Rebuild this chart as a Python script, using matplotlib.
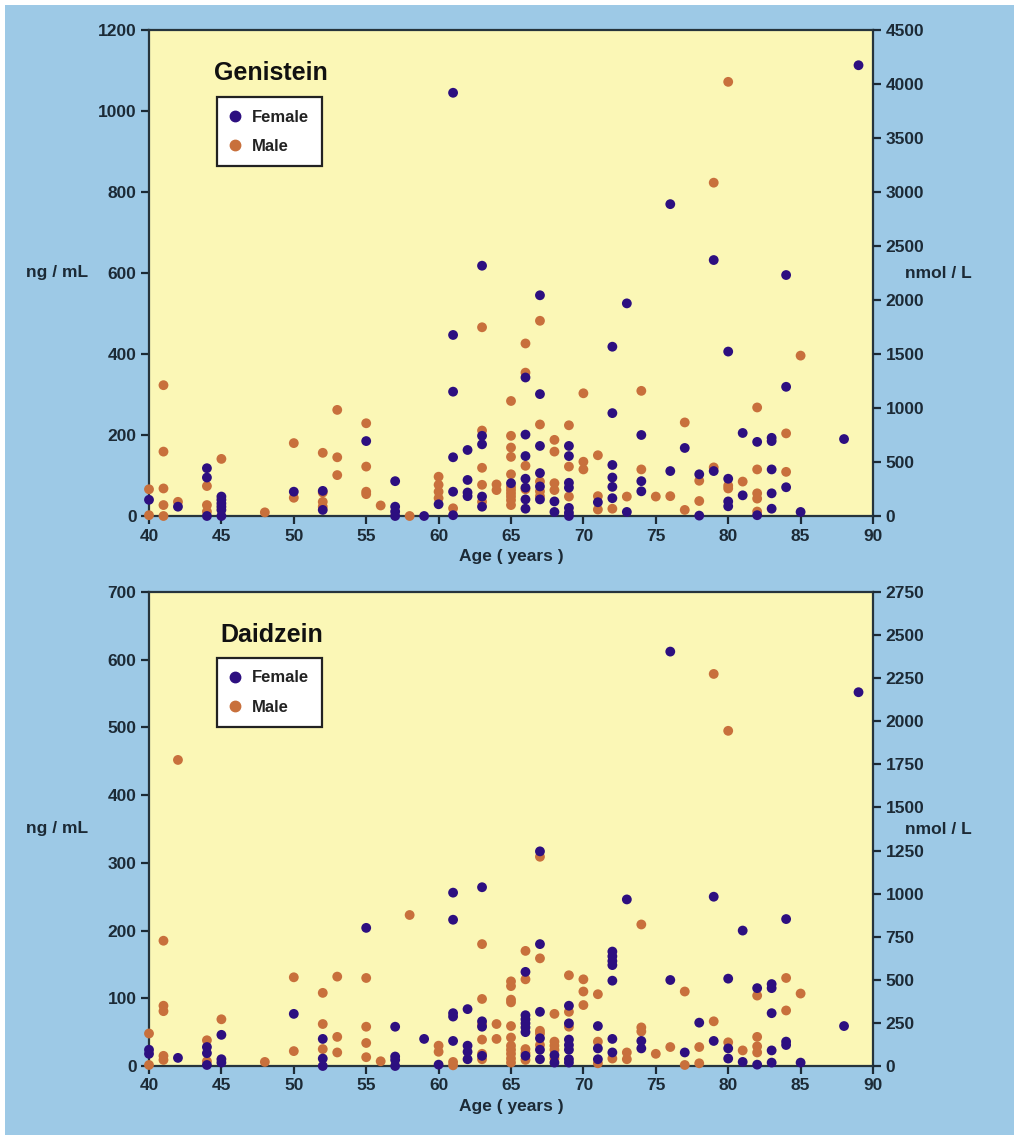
import matplotlib.pyplot as plt
from matplotlib.lines import Line2D
from matplotlib.patches import Rectangle

plt.rcParams['font.family'] = ['Liberation Sans', 'DejaVu Sans']
plt.rcParams['font.weight'] = 'bold'

BLUE = '#9dc9e6'
YELLOW = '#fbf7b6'
PURPLE = '#2d0f80'
ORANGE = '#c8703c'
INK = '#1c2a36'

# (age, ng/mL)
gen_female = [(40, 40), (42, 23), (44, 118), (44, 95), (44, 0),
              (45, 48), (45, 40), (45, 31), (45, 23), (45, 15), (45, 0),
              (50, 60), (52, 62), (52, 15), (55, 185),
              (57, 86), (57, 23), (57, 11), (57, 0), (59, 0), (60, 29),
              (61, 1045), (61, 447), (61, 307), (61, 145), (61, 60), (61, 2),
              (62, 163), (62, 89), (62, 58), (62, 49),
              (63, 618), (63, 198), (63, 177), (63, 48), (63, 23), (65, 81),
              (66, 342), (66, 201), (66, 148), (66, 92), (66, 70), (66, 41), (66, 18),
              (67, 545), (67, 301), (67, 173), (67, 106), (67, 73), (67, 41),
              (68, 36), (68, 10),
              (69, 173), (69, 148), (69, 82), (69, 70), (69, 20), (69, 8), (69, 0),
              (71, 34),
              (72, 418), (72, 254), (72, 126), (72, 95), (72, 72), (72, 44),
              (73, 525), (73, 10), (74, 200), (74, 86), (74, 61),
              (76, 770), (76, 111), (77, 168), (78, 103), (78, 1),
              (79, 632), (79, 111), (80, 406), (80, 92), (80, 36), (80, 24),
              (81, 205), (81, 51), (82, 183), (82, 2),
              (83, 193), (83, 185), (83, 115), (83, 56), (83, 18),
              (84, 595), (84, 319), (84, 71), (85, 10), (88, 190), (89, 1113)]

gen_male = [(40, 66), (40, 2), (41, 323), (41, 159), (41, 68), (41, 27), (41, 0),
            (42, 35), (44, 74), (44, 27), (44, 11), (45, 141), (48, 9),
            (50, 180), (50, 45), (52, 156), (52, 58), (52, 35), (52, 23),
            (53, 262), (53, 145), (53, 101), (55, 229), (55, 122), (55, 60), (55, 54),
            (56, 26), (58, 0), (60, 97), (60, 77), (60, 60), (60, 44), (61, 19),
            (63, 466), (63, 211), (63, 119), (63, 77), (63, 35), (64, 78), (64, 64),
            (65, 284), (65, 198), (65, 169), (65, 146), (65, 103), (65, 72),
            (65, 64), (65, 56), (65, 48), (65, 39), (65, 27),
            (66, 426), (66, 354), (66, 124), (66, 66),
            (67, 482), (67, 226), (67, 85), (67, 61), (67, 49),
            (68, 188), (68, 159), (68, 81), (68, 64), (69, 224), (69, 122), (69, 48),
            (70, 303), (70, 134), (70, 115), (71, 150), (71, 49), (71, 16),
            (72, 18), (73, 48), (74, 309), (74, 115), (75, 48), (76, 49),
            (77, 231), (77, 15), (78, 87), (78, 37), (79, 823), (79, 120),
            (80, 1072), (80, 75), (80, 68), (81, 85),
            (82, 268), (82, 115), (82, 56), (82, 43), (82, 11),
            (84, 204), (84, 109), (85, 396)]

dai_female = [(40, 24), (40, 18), (42, 12), (44, 28), (44, 19), (44, 1.5),
              (45, 46), (45, 10), (45, 5), (50, 77), (52, 40), (52, 11), (52, 0),
              (55, 204), (57, 58), (57, 14), (57, 9), (57, 0), (59, 40), (60, 2),
              (61, 256), (61, 216), (61, 78), (61, 73), (61, 37),
              (62, 84), (62, 30), (62, 21), (62, 10),
              (63, 264), (63, 66), (63, 58), (63, 15),
              (66, 139), (66, 75), (66, 69), (66, 63), (66, 57), (66, 50), (66, 15),
              (67, 317), (67, 180), (67, 80), (67, 41), (67, 24), (67, 10),
              (68, 16), (68, 5),
              (69, 89), (69, 63), (69, 39), (69, 31), (69, 24), (69, 10), (69, 5),
              (71, 59), (71, 26), (71, 10),
              (72, 169), (72, 162), (72, 155), (72, 149), (72, 126), (72, 40), (72, 20),
              (73, 246), (74, 37), (74, 26), (76, 612), (76, 127), (77, 20), (78, 64),
              (79, 250), (79, 37), (80, 129), (80, 26), (80, 11), (81, 200), (81, 6),
              (82, 115), (82, 2), (83, 121), (83, 115), (83, 78), (83, 23), (83, 5),
              (84, 217), (84, 36), (84, 31), (85, 5), (88, 59), (89, 552)]

dai_male = [(40, 48), (40, 1.5), (41, 185), (41, 89), (41, 81), (41, 15), (41, 9),
            (42, 452), (44, 38), (44, 7), (45, 69), (48, 6), (50, 131), (50, 22),
            (52, 108), (52, 62), (52, 25), (53, 132), (53, 43), (53, 20),
            (55, 130), (55, 58), (55, 34), (55, 13), (56, 7), (58, 223),
            (60, 30), (60, 21), (61, 6), (61, 1),
            (63, 180), (63, 99), (63, 61), (63, 39), (63, 18), (63, 10),
            (64, 62), (64, 40),
            (65, 125), (65, 118), (65, 98), (65, 94), (65, 59), (65, 42),
            (65, 30), (65, 24), (65, 18), (65, 11), (65, 5),
            (66, 170), (66, 128), (66, 25), (66, 19), (66, 9),
            (67, 309), (67, 159), (67, 52), (67, 48), (67, 31),
            (68, 77), (68, 36), (68, 30), (68, 24), (68, 11),
            (69, 134), (69, 80), (69, 58), (70, 128), (70, 110), (70, 90),
            (71, 106), (71, 36), (71, 4), (72, 11), (73, 20), (73, 10),
            (74, 209), (74, 57), (74, 51), (75, 18), (76, 28), (77, 110), (77, 1.5),
            (78, 28), (78, 4), (79, 579), (79, 66), (80, 495), (80, 35), (81, 23),
            (82, 104), (82, 43), (82, 29), (82, 20), (84, 130), (84, 82), (85, 107)]

x_ticks = [40, 45, 50, 55, 60, 65, 70, 75, 80, 85, 90]

W, H = 1019, 1138
fig = plt.figure(figsize=(W / 100, H / 100), dpi=100, facecolor='white')
bg = Rectangle((5 / W, 3 / H), (W - 10) / W, (H - 8) / H,
               transform=fig.transFigure, facecolor=BLUE, edgecolor='none',
               zorder=-10)
fig.patches.append(bg)


def panel(rect, title, female, male, ymax, ystep, rmax, rstep, title_xy, leg_y):
    ax = fig.add_axes(rect)
    ax.set_facecolor(YELLOW)
    for pts, col in ((male, ORANGE), (female, PURPLE)):
        ax.scatter([p[0] for p in pts], [p[1] for p in pts], s=50, color=col,
                   edgecolors='none', zorder=3, clip_on=False)
    ax.set_xlim(40, 90)
    ax.set_ylim(0, ymax)
    ax.set_xticks(x_ticks)
    ax.set_yticks(range(0, ymax + 1, ystep))
    ax.tick_params(labelsize=12.5, colors=INK, width=1.6, length=6,
                   direction='out', pad=3)
    for s in ax.spines.values():
        s.set_color('#26343c')
        s.set_linewidth(1.6)
    ax.set_xlabel('Age ( years )', fontsize=12.5, color=INK, labelpad=4,
                  fontweight='bold')
    ax.text(-0.084, 0.5, 'ng / mL', transform=ax.transAxes, fontsize=12.5,
            color=INK, ha='right', va='center', fontweight='bold')
    ax.text(title_xy[0], title_xy[1], title, transform=ax.transAxes,
            fontsize=18, color='#111111', fontweight='bold', va='baseline')

    ax2 = ax.twinx()
    ax2.set_ylim(0, rmax)
    ax2.set_yticks(range(0, rmax + 1, rstep))
    ax2.tick_params(labelsize=12.5, colors=INK, width=1.6, length=6,
                    direction='out', pad=3)
    for s in ax2.spines.values():
        s.set_visible(False)
    ax2.text(1.044, 0.5, 'nmol / L', transform=ax.transAxes, fontsize=12.5,
             color=INK, ha='left', va='center', fontweight='bold')

    handles = [Line2D([], [], marker='o', ls='none', color=PURPLE, markersize=7.5,
                      label='Female'),
               Line2D([], [], marker='o', ls='none', color=ORANGE, markersize=7.5,
                      label='Male')]
    leg = ax.legend(handles=handles, loc='upper left',
                    bbox_to_anchor=(0.094, leg_y), borderaxespad=0,
                    fontsize=12, frameon=True, fancybox=False,
                    handlelength=0.6, handletextpad=0.75, borderpad=0.75,
                    labelspacing=0.85, edgecolor='#222222', framealpha=1)
    leg.get_frame().set_linewidth(1.6)
    for t in leg.get_texts():
        t.set_color('#222222')
        t.set_fontweight('bold')
    return ax


panel([149 / W, 1 - 516 / H, 724 / W, 486 / H], 'Genistein',
      gen_female, gen_male, 1200, 200, 4500, 500, (0.09, 0.897), 0.862)
panel([149 / W, 1 - 1066 / H, 724 / W, 474 / H], 'Daidzein',
      dai_female, dai_male, 700, 100, 2750, 250, (0.099, 0.895), 0.861)

fig.savefig('out.png', dpi=100, facecolor='white')
